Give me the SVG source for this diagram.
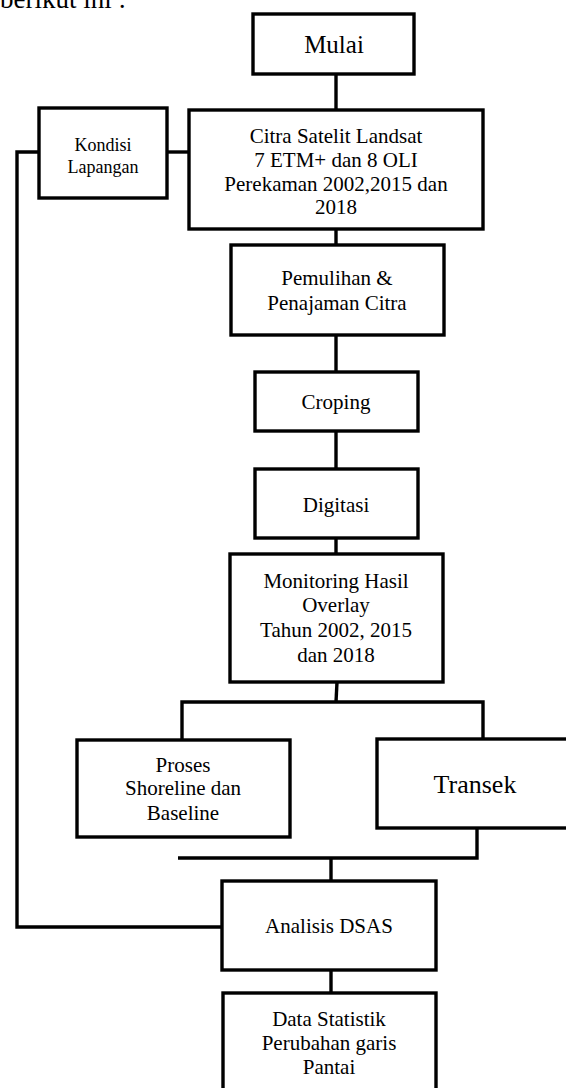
<svg xmlns="http://www.w3.org/2000/svg" width="566" height="1088" viewBox="0 0 566 1088">
<style>
.box{fill:#fff;stroke:#000;stroke-width:3.4}
.ln{fill:none;stroke:#000;stroke-width:3.4}
text{font-family:"Liberation Serif","Times New Roman",serif;fill:#000;text-anchor:middle;font-size:21px}
.small{font-size:18px}
.big{font-size:25px}
</style>
<rect width="566" height="1088" fill="#fff"/>
<text x="0" y="8" style="text-anchor:start;font-size:27px">berikut ini :</text>
<g id="connectors">
<path class="ln" d="M336,74 V110"/>
<path class="ln" d="M167,152 H189"/>
<path class="ln" d="M39,152 H17 V927 H222"/>
<path class="ln" d="M336,229 V245"/>
<path class="ln" d="M336,335 V372"/>
<path class="ln" d="M336,431 V469"/>
<path class="ln" d="M336,538 V554"/>
<path class="ln" d="M337,682 L336,702"/>
<path class="ln" d="M182,740 V702 H483 V739"/>
<path class="ln" d="M477,828 V858 H178"/>
<path class="ln" d="M331,858 V881"/>
<path class="ln" d="M331,970 V993"/>
</g>
<g id="mulai"><rect class="box" x="253" y="14" width="161" height="60"/><text class="big" x="334" y="53">Mulai</text></g>
<g id="kondisi"><rect class="box" x="39" y="108" width="128" height="90"/><text class="small" x="103" y="151">Kondisi</text><text class="small" x="103" y="173">Lapangan</text></g>
<g id="citra"><rect class="box" x="189" y="110" width="294" height="119"/><text x="336" y="143">Citra Satelit Landsat</text><text x="336" y="167">7 ETM+ dan 8 OLI</text><text x="336" y="191">Perekaman 2002,2015 dan</text><text x="336" y="214">2018</text></g>
<g id="pemulihan"><rect class="box" x="231" y="245" width="213" height="90"/><text x="337" y="285">Pemulihan &amp;</text><text x="337" y="310">Penajaman Citra</text></g>
<g id="croping"><rect class="box" x="255" y="372" width="163" height="59"/><text x="336" y="409">Croping</text></g>
<g id="digitasi"><rect class="box" x="255" y="469" width="163" height="69"/><text x="336" y="512">Digitasi</text></g>
<g id="monitoring"><rect class="box" x="230" y="554" width="213" height="128"/><text x="336" y="588">Monitoring Hasil</text><text x="336" y="612">Overlay</text><text x="336" y="637">Tahun 2002, 2015</text><text x="336" y="662">dan 2018</text></g>
<g id="proses"><rect class="box" x="77" y="740" width="213" height="97"/><text x="183" y="772">Proses</text><text x="183" y="795">Shoreline dan</text><text x="183" y="820">Baseline</text></g>
<g id="transek"><rect class="box" x="377" y="739" width="200" height="89"/><text x="475" y="793" style="font-size:26px">Transek</text></g>
<g id="analisis"><rect class="box" x="222" y="881" width="214" height="89"/><text x="329" y="933">Analisis DSAS</text></g>
<g id="data"><rect class="box" x="223" y="993" width="213" height="110"/><text x="329" y="1026">Data Statistik</text><text x="329" y="1050">Perubahan garis</text><text x="329" y="1074">Pantai</text></g>
</svg>
